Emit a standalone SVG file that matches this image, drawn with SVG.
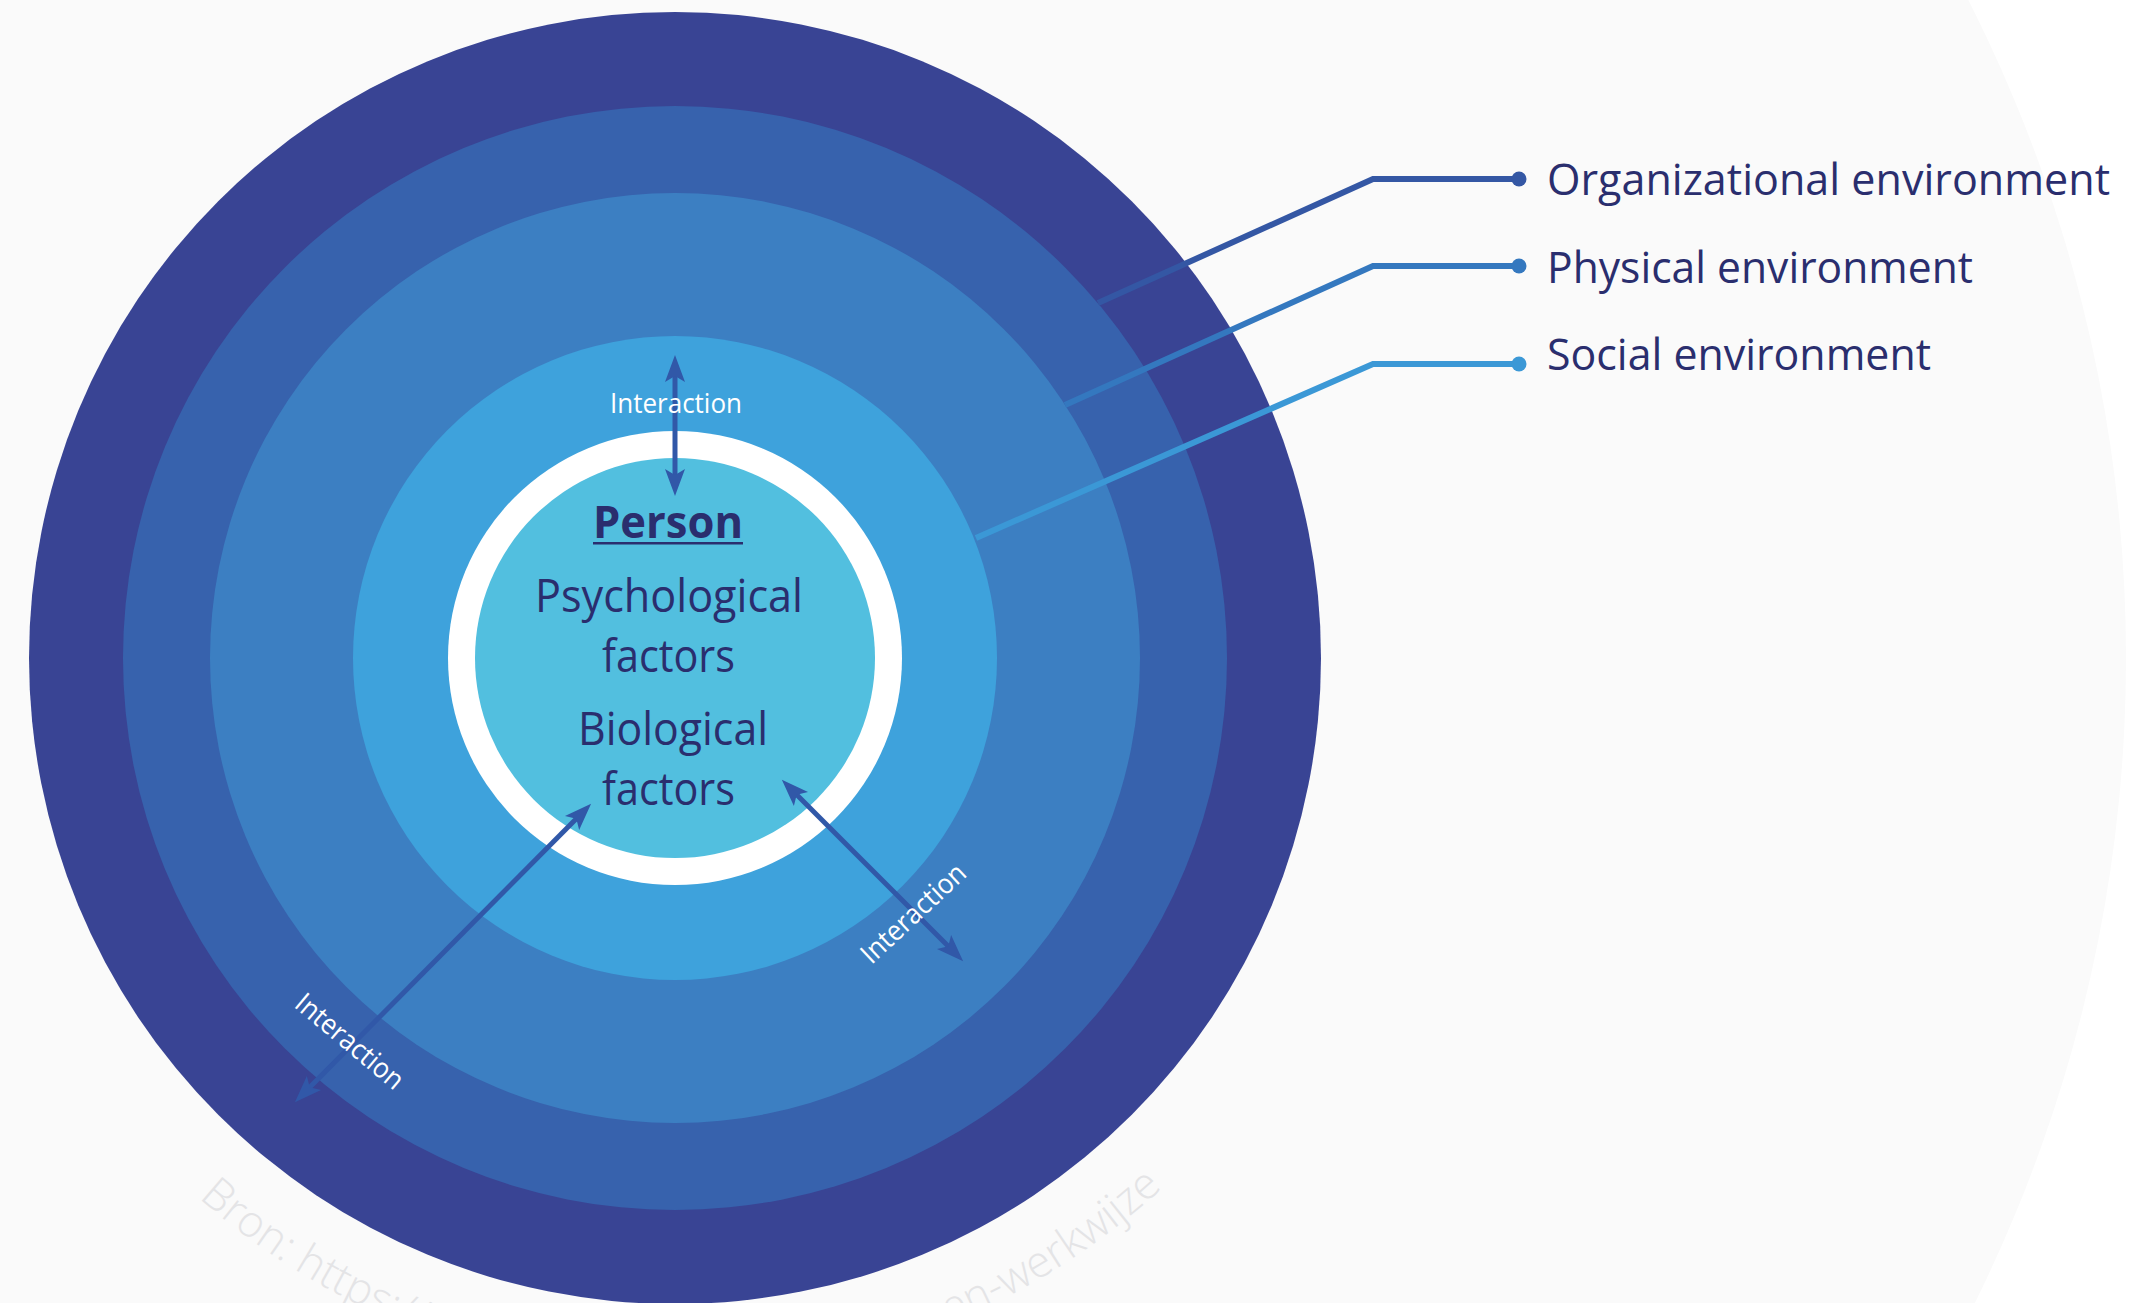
<svg xmlns="http://www.w3.org/2000/svg" width="2140" height="1303" viewBox="0 0 2140 1303">
  <style>
    .lbl { font-family: "Open Sans", "Noto Sans", "Liberation Sans", sans-serif; fill: #2a2e6e; }
    .env { font-size: 44px; }
    .core { font-size: 46px; text-anchor: middle; }
    .person { font-size: 44px; font-weight: 700; text-anchor: middle; }
    .inter { font-family: "Open Sans", "Noto Sans", "Liberation Sans", sans-serif; font-size: 28px; fill: #ffffff; text-anchor: middle; }
    .wm { font-family: "Open Sans", "Noto Sans", "Liberation Sans", sans-serif; font-size: 44px; font-weight: 300; fill: #e4e4e6; }
    .arrow { stroke: #3158a8; stroke-width: 5; fill: none; marker-start: url(#head); marker-end: url(#head); }
    .lead { fill: none; stroke-width: 6; stroke-linejoin: miter; }
  </style>
  <defs>
    <marker id="head" viewBox="-30 -12 32 24" markerWidth="32" markerHeight="24" markerUnits="userSpaceOnUse" refX="-20" refY="0" orient="auto-start-reverse">
      <path d="M0,0 L-27,-10 L-21,0 L-27,10 Z" fill="#3158a8"/>
    </marker>
    <path id="wmArc" d="M123.4,1120.8 A720,720 0 0 0 1226.6,1120.8"/>
  </defs>

  <g id="background">
    <rect x="0" y="0" width="2140" height="1303" fill="#ffffff"/>
    <circle cx="675" cy="658" r="1451" fill="#fafafa"/>
  </g>

  <g id="watermark">
    <text class="wm"><textPath href="#wmArc" startOffset="108">Bron: https://</textPath></text>
    <text class="wm" text-anchor="end"><textPath href="#wmArc" startOffset="1164">en-werkwijze</textPath></text>
  </g>

  <g id="organizational-ring"><circle cx="675" cy="658" r="646" fill="#394494"/></g>
  <g id="physical-ring"><circle cx="675" cy="658" r="552" fill="#3762ad"/></g>
  <g id="social-ring"><circle cx="675" cy="658" r="465" fill="#3c7fc2"/></g>
  <g id="interaction-ring"><circle cx="675" cy="658" r="322" fill="#3ea2dc"/></g>
  <g id="person">
    <circle cx="675" cy="658" r="227" fill="#ffffff"/>
    <circle cx="675" cy="658" r="200" fill="#52bfdf"/>
    <text class="lbl person" x="668" y="538" textLength="150" lengthAdjust="spacingAndGlyphs">Person</text>
    <rect x="593" y="542" width="150" height="2.5" fill="#2a2e6e"/>
    <text class="lbl core" x="669" y="612" textLength="268" lengthAdjust="spacingAndGlyphs">Psychological</text>
    <text class="lbl core" x="668.5" y="672" textLength="133" lengthAdjust="spacingAndGlyphs">factors</text>
    <text class="lbl core" x="673" y="745" textLength="190" lengthAdjust="spacingAndGlyphs">Biological</text>
    <text class="lbl core" x="668.5" y="805" textLength="133" lengthAdjust="spacingAndGlyphs">factors</text>
  </g>

  <g id="connectors">
    <line class="arrow" x1="675" y1="375" x2="675" y2="476"/>
    <line class="arrow" x1="577" y1="818" x2="309" y2="1088"/>
    <line class="arrow" x1="796" y1="794" x2="949" y2="947"/>
    <polyline class="lead" stroke="#3457a4" points="1098,303 1373,179 1519,179"/>
    <circle cx="1519" cy="179" r="7.5" fill="#3457a4"/>
    <polyline class="lead" stroke="#3478bf" points="1065,405 1373,266 1519,266"/>
    <circle cx="1519" cy="266" r="7.5" fill="#3478bf"/>
    <polyline class="lead" stroke="#3b98d6" points="976,538 1373,364 1519,364"/>
    <circle cx="1519" cy="364" r="7.5" fill="#3b98d6"/>
  </g>

  <g id="interaction-labels">
    <text class="inter" x="676" y="413" textLength="132" lengthAdjust="spacingAndGlyphs">Interaction</text>
    <g transform="translate(350,1041) rotate(40)"><text class="inter" x="0" y="10" textLength="132" lengthAdjust="spacingAndGlyphs">Interaction</text></g>
    <g transform="translate(913,913) rotate(-43)"><text class="inter" x="0" y="10" textLength="132" lengthAdjust="spacingAndGlyphs">Interaction</text></g>
  </g>

  <g id="environment-labels">
    <text class="lbl env" x="1547" y="195" textLength="563" lengthAdjust="spacingAndGlyphs">Organizational environment</text>
    <text class="lbl env" x="1547" y="283" textLength="426" lengthAdjust="spacingAndGlyphs">Physical environment</text>
    <text class="lbl env" x="1547" y="370" textLength="384" lengthAdjust="spacingAndGlyphs">Social environment</text>
  </g>
</svg>
